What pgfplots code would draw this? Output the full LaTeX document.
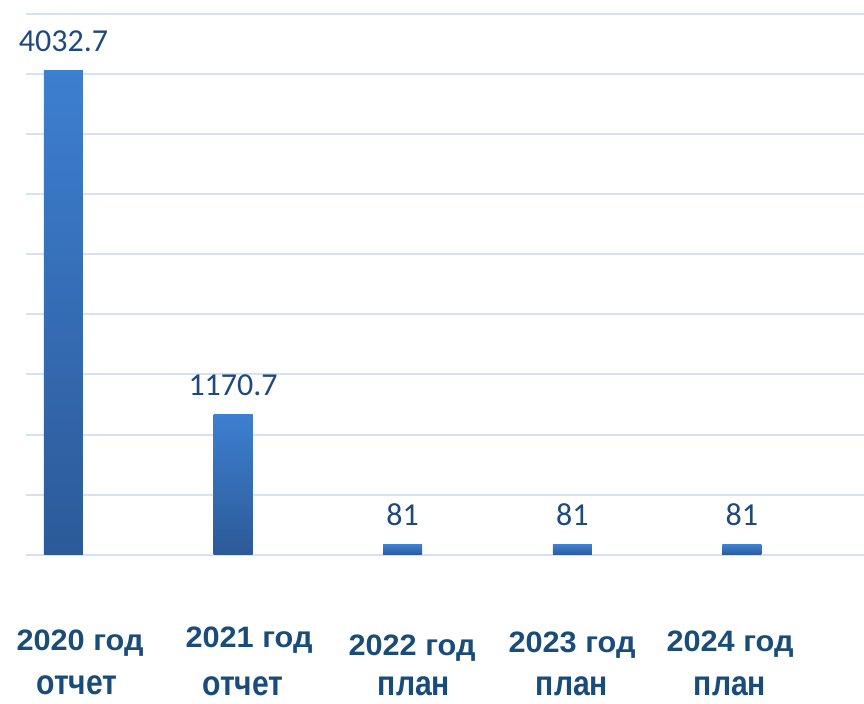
\documentclass[border=0pt]{standalone}
\usepackage{pgfplots}
\pgfplotsset{compat=1.18}
\usepackage{fontspec}
\setmainfont{Liberation Sans}
\newfontfamily\datafont{Carlito}
\newfontfamily\catfont{Liberation Sans}
\definecolor{gridc}{RGB}{214,226,243}
\definecolor{bartop}{RGB}{61,127,208}
\definecolor{barbot}{RGB}{44,90,152}
\definecolor{datac}{RGB}{31,73,125}
\definecolor{catc}{RGB}{26,76,122}
\newcommand{\lineA}[1]{{\catfont\bfseries\fontsize{29.5bp}{32bp}\selectfont\scalebox{1.04}[1]{#1}}}
\newcommand{\lineB}[1]{{\catfont\bfseries\fontsize{35bp}{40bp}\selectfont\scalebox{0.86}[1]{#1}}}
\begin{document}
\begin{tikzpicture}
\useasboundingbox (0,0) rectangle (864bp,704bp);
\begin{axis}[
  at={(26bp,149.3bp)}, anchor=south west,
  scale only axis, width=838bp, height=540.7bp,
  xmin=-0.221, xmax=4.72, ymin=0, ymax=4500,
  ytick={0,500,...,4500}, xtick=\empty,
  yticklabels={},
  ymajorgrids, grid style={gridc, line width=2bp},
  axis line style={draw=none}, tick style={draw=none},
  ybar, bar width=39bp, bar shift=0pt,
  clip=false,
  /pgf/number format/assume math mode=true,
  nodes near coords={\pgfmathprintnumber[fixed,1000 sep={},precision=1]{\pgfplotspointmeta}},
  every node near coord/.append style={anchor=base, yshift=19bp, inner sep=0pt,
     font=\datafont\fontsize{32bp}{34bp}\selectfont, text=datac},
  every axis plot/.append style={draw=none, top color=bartop, bottom color=barbot},
]
\addplot coordinates {(0,4032.7)};
\addplot coordinates {(1,1170.7)};
\addplot coordinates {(2,81)};
\addplot coordinates {(3,81)};
\addplot coordinates {(4,81)};
\end{axis}
\begin{scope}[every node/.style={anchor=base, inner sep=0pt, text=catc}]
\node at (80bp,53bp) {\lineA{2020 год}};
\node at (77bp,10bp) {\lineB{отчет}};
\node at (249bp,56bp) {\lineA{2021 год}};
\node at (243bp,9bp) {\lineB{отчет}};
\node at (412bp,48bp) {\lineA{2022 год}};
\node at (414bp,9bp) {\lineB{план}};
\node at (572bp,51bp) {\lineA{2023 год}};
\node at (572bp,9bp) {\lineB{план}};
\node at (730bp,52bp) {\lineA{2024 год}};
\node at (730bp,9bp) {\lineB{план}};
\end{scope}
\end{tikzpicture}
\end{document}
